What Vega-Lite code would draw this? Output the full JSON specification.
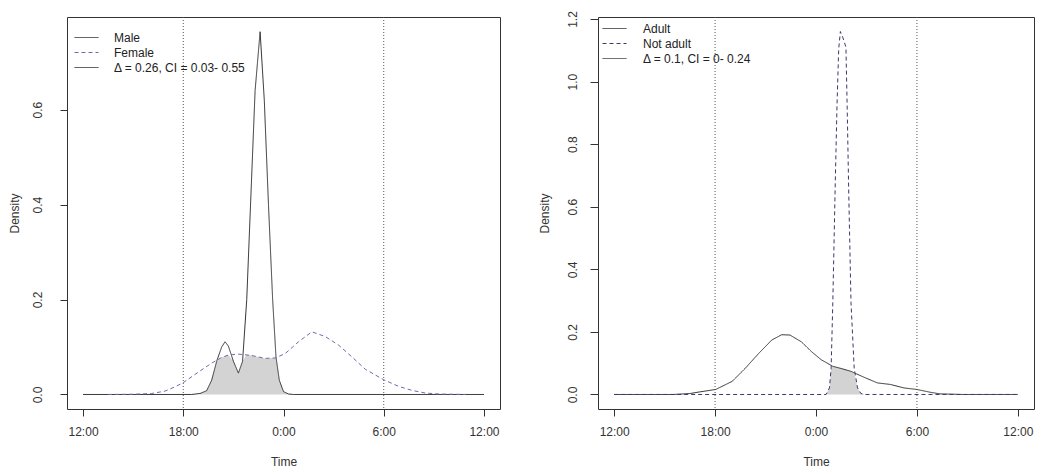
{
  "$schema": "https://vega.github.io/schema/vega-lite/v6.json",
  "background": "white",
  "padding": {"left": 7, "top": 10, "right": 0, "bottom": 0},
  "bounds": "flush",
  "spacing": 98,
  "resolve": {"scale": {"color": "independent", "strokeDash": "independent", "x": "independent", "y": "independent"}},
  "config": {
    "font": "Liberation Sans",
    "view": {"stroke": "#333", "strokeWidth": 1},
    "axis": {"domain": false, "grid": false, "tickColor": "#333", "tickSize": 7, "labelFont": "Liberation Sans", "labelFontSize": 12, "labelColor": "#333", "titleFont": "Liberation Sans", "titleFontSize": 12, "titleFontWeight": "normal", "titleColor": "#333"},
    "axisX": {"labelPadding": 10, "titlePadding": 19, "labelFlush": false},
    "axisY": {"labelAngle": -90, "labelAlign": "center", "labelBaseline": "bottom"},
    "legend": {"symbolType": "M-2,0H2", "symbolSize": 144, "symbolStrokeWidth": 1, "labelFont": "Liberation Sans", "labelFontSize": 12, "labelColor": "#222", "labelOffset": 21, "rowPadding": 2}
  },
  "datasets": {
    "vlines": [{"h": 6}, {"h": 18}],
    "leftLines": [
      {"h": 0, "density": 0, "sex": "Male"},
      {"h": 6.5, "density": 0, "sex": "Male"},
      {"h": 7.0, "density": 0.002, "sex": "Male"},
      {"h": 7.4, "density": 0.008, "sex": "Male"},
      {"h": 7.7, "density": 0.03, "sex": "Male"},
      {"h": 8.0, "density": 0.07, "sex": "Male"},
      {"h": 8.3, "density": 0.1, "sex": "Male"},
      {"h": 8.5, "density": 0.111, "sex": "Male"},
      {"h": 8.7, "density": 0.102, "sex": "Male"},
      {"h": 9.0, "density": 0.07, "sex": "Male"},
      {"h": 9.3, "density": 0.045, "sex": "Male"},
      {"h": 9.55, "density": 0.07, "sex": "Male"},
      {"h": 9.8, "density": 0.2, "sex": "Male"},
      {"h": 10.05, "density": 0.42, "sex": "Male"},
      {"h": 10.3, "density": 0.64, "sex": "Male"},
      {"h": 10.6, "density": 0.764, "sex": "Male"},
      {"h": 10.85, "density": 0.62, "sex": "Male"},
      {"h": 11.1, "density": 0.4, "sex": "Male"},
      {"h": 11.35, "density": 0.2, "sex": "Male"},
      {"h": 11.55, "density": 0.079, "sex": "Male"},
      {"h": 11.75, "density": 0.03, "sex": "Male"},
      {"h": 12.0, "density": 0.006, "sex": "Male"},
      {"h": 12.3, "density": 0.001, "sex": "Male"},
      {"h": 12.6, "density": 0, "sex": "Male"},
      {"h": 24, "density": 0, "sex": "Male"},
      {"h": 1.5, "density": 0, "sex": "Female"},
      {"h": 3.0, "density": 0.0005, "sex": "Female"},
      {"h": 4.1, "density": 0.002, "sex": "Female"},
      {"h": 4.9, "density": 0.007, "sex": "Female"},
      {"h": 5.5, "density": 0.016, "sex": "Female"},
      {"h": 6.0, "density": 0.025, "sex": "Female"},
      {"h": 6.9, "density": 0.047, "sex": "Female"},
      {"h": 7.7, "density": 0.066, "sex": "Female"},
      {"h": 8.3, "density": 0.078, "sex": "Female"},
      {"h": 8.7, "density": 0.083, "sex": "Female"},
      {"h": 9.3, "density": 0.085, "sex": "Female"},
      {"h": 10.1, "density": 0.082, "sex": "Female"},
      {"h": 10.9, "density": 0.076, "sex": "Female"},
      {"h": 11.5, "density": 0.077, "sex": "Female"},
      {"h": 12.1, "density": 0.086, "sex": "Female"},
      {"h": 12.9, "density": 0.111, "sex": "Female"},
      {"h": 13.7, "density": 0.132, "sex": "Female"},
      {"h": 14.5, "density": 0.122, "sex": "Female"},
      {"h": 15.3, "density": 0.104, "sex": "Female"},
      {"h": 16.1, "density": 0.079, "sex": "Female"},
      {"h": 16.9, "density": 0.053, "sex": "Female"},
      {"h": 18.0, "density": 0.031, "sex": "Female"},
      {"h": 18.9, "density": 0.017, "sex": "Female"},
      {"h": 19.7, "density": 0.0085, "sex": "Female"},
      {"h": 20.5, "density": 0.003, "sex": "Female"},
      {"h": 21.3, "density": 0.001, "sex": "Female"},
      {"h": 22.9, "density": 0, "sex": "Female"}
    ],
    "leftOverlap": [
      {"h": 7.0, "density": 0.002},
      {"h": 7.4, "density": 0.008},
      {"h": 7.7, "density": 0.03},
      {"h": 8.0, "density": 0.07},
      {"h": 8.3, "density": 0.078},
      {"h": 8.5, "density": 0.081},
      {"h": 8.7, "density": 0.083},
      {"h": 9.0, "density": 0.07},
      {"h": 9.3, "density": 0.045},
      {"h": 9.55, "density": 0.07},
      {"h": 9.8, "density": 0.084},
      {"h": 10.1, "density": 0.082},
      {"h": 10.9, "density": 0.076},
      {"h": 11.35, "density": 0.077},
      {"h": 11.55, "density": 0.077},
      {"h": 11.75, "density": 0.03},
      {"h": 12.0, "density": 0.006},
      {"h": 12.3, "density": 0.001},
      {"h": 12.6, "density": 0}
    ],
    "rightLines": [
      {"h": 0, "density": 0, "age": "Adult"},
      {"h": 3.5, "density": 0, "age": "Adult"},
      {"h": 4.5, "density": 0.003, "age": "Adult"},
      {"h": 5.06, "density": 0.008, "age": "Adult"},
      {"h": 6.04, "density": 0.016, "age": "Adult"},
      {"h": 7.02, "density": 0.042, "age": "Adult"},
      {"h": 7.8, "density": 0.084, "age": "Adult"},
      {"h": 8.59, "density": 0.131, "age": "Adult"},
      {"h": 9.37, "density": 0.174, "age": "Adult"},
      {"h": 9.96, "density": 0.191, "age": "Adult"},
      {"h": 10.45, "density": 0.19, "age": "Adult"},
      {"h": 11.14, "density": 0.168, "age": "Adult"},
      {"h": 11.73, "density": 0.137, "age": "Adult"},
      {"h": 12.31, "density": 0.111, "age": "Adult"},
      {"h": 13.0, "density": 0.09, "age": "Adult"},
      {"h": 13.5, "density": 0.083, "age": "Adult"},
      {"h": 14.08, "density": 0.074, "age": "Adult"},
      {"h": 14.4, "density": 0.066, "age": "Adult"},
      {"h": 14.86, "density": 0.055, "age": "Adult"},
      {"h": 15.65, "density": 0.037, "age": "Adult"},
      {"h": 16.43, "density": 0.032, "age": "Adult"},
      {"h": 17.22, "density": 0.021, "age": "Adult"},
      {"h": 18.0, "density": 0.016, "age": "Adult"},
      {"h": 18.8, "density": 0.007, "age": "Adult"},
      {"h": 19.37, "density": 0.002, "age": "Adult"},
      {"h": 20.75, "density": 0, "age": "Adult"},
      {"h": 24, "density": 0, "age": "Adult"},
      {"h": 0, "density": 0, "age": "Not adult"},
      {"h": 12.6, "density": 0, "age": "Not adult"},
      {"h": 12.8, "density": 0.021, "age": "Not adult"},
      {"h": 12.9, "density": 0.084, "age": "Not adult"},
      {"h": 13.0, "density": 0.295, "age": "Not adult"},
      {"h": 13.14, "density": 0.663, "age": "Not adult"},
      {"h": 13.25, "density": 0.926, "age": "Not adult"},
      {"h": 13.35, "density": 1.105, "age": "Not adult"},
      {"h": 13.45, "density": 1.16, "age": "Not adult"},
      {"h": 13.6, "density": 1.14, "age": "Not adult"},
      {"h": 13.78, "density": 1.11, "age": "Not adult"},
      {"h": 13.86, "density": 0.9, "age": "Not adult"},
      {"h": 13.94, "density": 0.663, "age": "Not adult"},
      {"h": 14.08, "density": 0.295, "age": "Not adult"},
      {"h": 14.27, "density": 0.084, "age": "Not adult"},
      {"h": 14.47, "density": 0.021, "age": "Not adult"},
      {"h": 14.67, "density": 0.003, "age": "Not adult"},
      {"h": 14.9, "density": 0, "age": "Not adult"},
      {"h": 24, "density": 0, "age": "Not adult"}
    ],
    "rightOverlap": [
      {"h": 12.6, "density": 0},
      {"h": 12.8, "density": 0.021},
      {"h": 12.9, "density": 0.084},
      {"h": 13.0, "density": 0.09},
      {"h": 13.5, "density": 0.083},
      {"h": 14.08, "density": 0.074},
      {"h": 14.27, "density": 0.069},
      {"h": 14.47, "density": 0.021},
      {"h": 14.67, "density": 0.003},
      {"h": 14.9, "density": 0}
    ]
  },
  "hconcat": [
    {
      "width": 433,
      "height": 392,
      "layer": [
        {
          "data": {"name": "leftOverlap"},
          "mark": {"type": "area", "fill": "#d3d3d3", "stroke": null},
          "encoding": {
            "x": {"field": "h", "type": "quantitative"},
            "y": {"field": "density", "type": "quantitative"}
          }
        },
        {
          "data": {"name": "vlines"},
          "mark": {"type": "rule", "color": "#555", "strokeDash": [1, 2], "strokeWidth": 1},
          "encoding": {"x": {"field": "h", "type": "quantitative"}}
        },
        {
          "data": {"name": "leftLines"},
          "mark": {"type": "line", "strokeWidth": 1},
          "encoding": {
            "x": {
              "field": "h", "type": "quantitative",
              "scale": {"domain": [-0.96, 24.96], "nice": false, "zero": false},
              "axis": {"values": [0, 6, 12, 18, 24], "title": "Time", "labelExpr": "datum.value == 6 ? '18:00' : datum.value == 12 ? '0:00' : datum.value == 18 ? '6:00' : '12:00'"}
            },
            "y": {
              "field": "density", "type": "quantitative",
              "scale": {"domain": [-0.0306, 0.795], "nice": false, "zero": false},
              "axis": {"values": [0, 0.2, 0.4, 0.6], "format": ".1f", "title": "Density", "labelPadding": 16, "titlePadding": 10}
            },
            "color": {
              "field": "sex", "type": "nominal",
              "scale": {"domain": ["Male", "Female", "Δ = 0.26, CI = 0.03- 0.55"], "range": ["#333333", "#6c6ca8", "#333333"]},
              "legend": {"orient": "none", "legendX": 13, "legendY": 14, "title": null}
            },
            "strokeDash": {
              "field": "sex", "type": "nominal",
              "scale": {"domain": ["Male", "Female", "Δ = 0.26, CI = 0.03- 0.55"], "range": [[1, 0], [4, 3], [1, 0]]},
              "legend": {"orient": "none", "legendX": 13, "legendY": 14, "title": null}
            }
          }
        }
      ]
    },
    {
      "width": 436,
      "height": 392,
      "layer": [
        {
          "data": {"name": "rightOverlap"},
          "mark": {"type": "area", "fill": "#d3d3d3", "stroke": null},
          "encoding": {
            "x": {"field": "h", "type": "quantitative"},
            "y": {"field": "density", "type": "quantitative"}
          }
        },
        {
          "data": {"name": "vlines"},
          "mark": {"type": "rule", "color": "#555", "strokeDash": [1, 2], "strokeWidth": 1},
          "encoding": {"x": {"field": "h", "type": "quantitative"}}
        },
        {
          "data": {"name": "rightLines"},
          "mark": {"type": "line", "strokeWidth": 1},
          "encoding": {
            "x": {
              "field": "h", "type": "quantitative",
              "scale": {"domain": [-0.96, 24.96], "nice": false, "zero": false},
              "axis": {"values": [0, 6, 12, 18, 24], "title": "Time", "labelExpr": "datum.value == 6 ? '18:00' : datum.value == 12 ? '0:00' : datum.value == 18 ? '6:00' : '12:00'"}
            },
            "y": {
              "field": "density", "type": "quantitative",
              "scale": {"domain": [-0.0464, 1.2064], "nice": false, "zero": false},
              "axis": {"values": [0, 0.2, 0.4, 0.6, 0.8, 1.0, 1.2], "format": ".1f", "title": "Density", "labelPadding": 11, "tickSize": 8, "titlePadding": 15}
            },
            "color": {
              "field": "age", "type": "nominal",
              "scale": {"domain": ["Adult", "Not adult", "Δ = 0.1, CI = 0- 0.24"], "range": ["#333333", "#3a3a6a", "#444444"]},
              "legend": {"orient": "none", "legendX": 10, "legendY": 5, "title": null, "labelOffset": 22}
            },
            "strokeDash": {
              "field": "age", "type": "nominal",
              "scale": {"domain": ["Adult", "Not adult", "Δ = 0.1, CI = 0- 0.24"], "range": [[1, 0], [4, 3], [1, 0]]},
              "legend": {"orient": "none", "legendX": 10, "legendY": 5, "title": null, "labelOffset": 22}
            }
          }
        }
      ]
    }
  ]
}
